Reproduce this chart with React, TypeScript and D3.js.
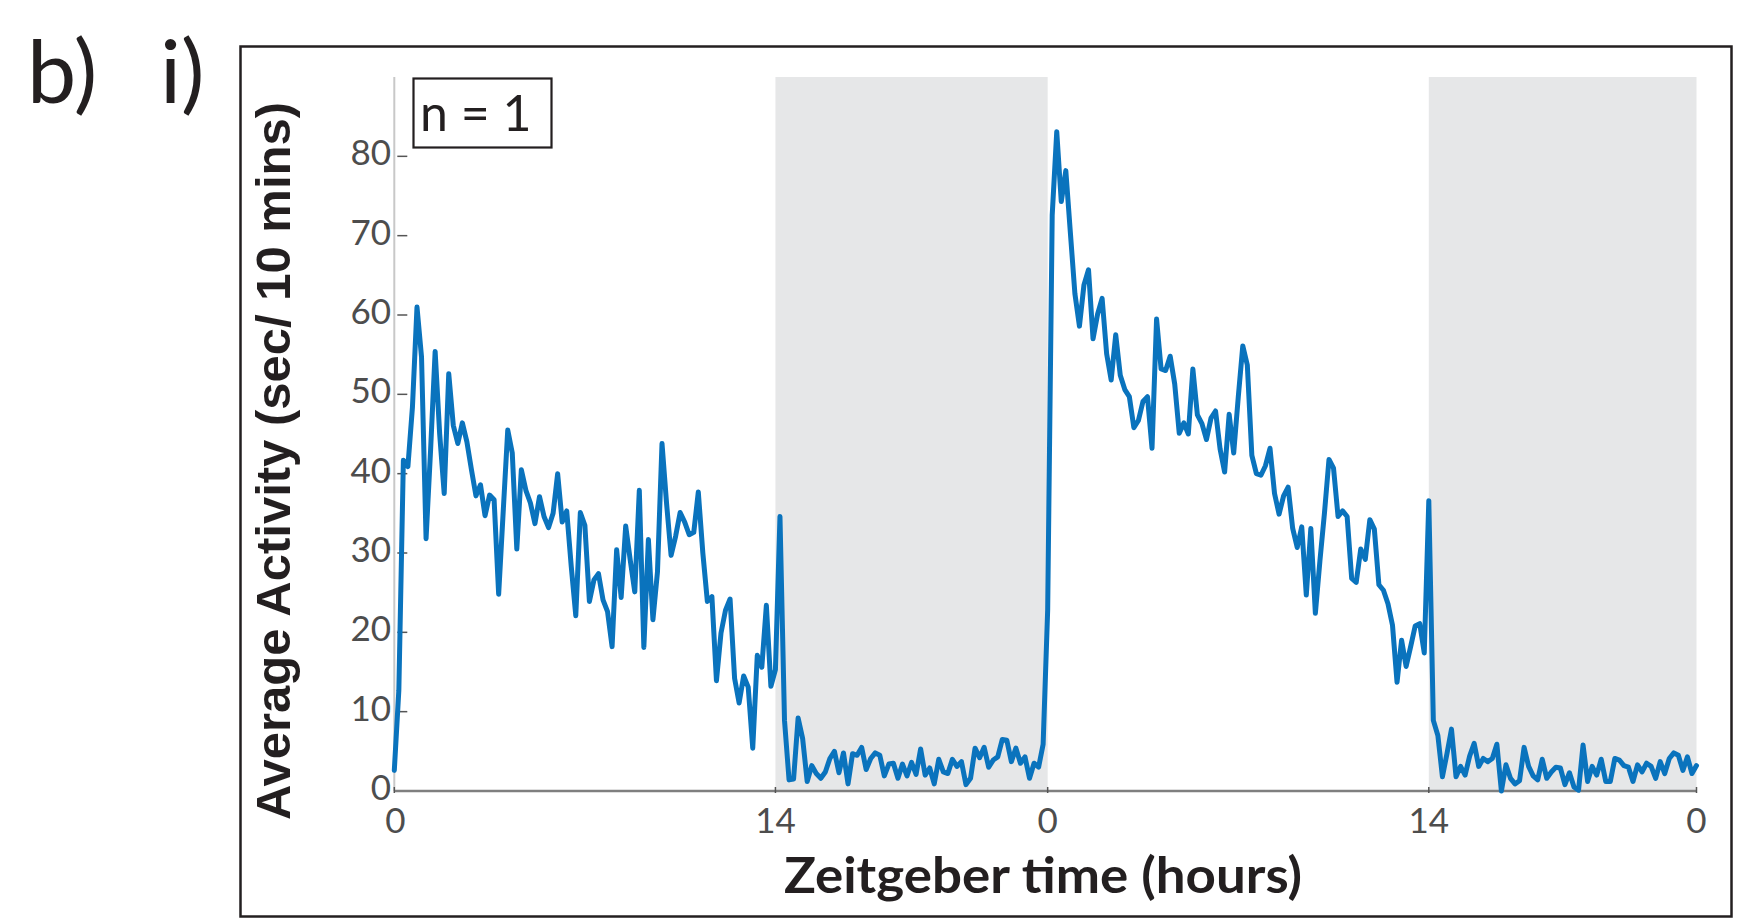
import React from 'react';
import * as d3 from 'd3';

// Average activity per 10-min bin over two 24 h days (288 bins)
const activity: number[] = [
  2.6, 12.7, 41.7, 40.9, 48.4, 61.0, 54.7, 31.8, 43.0, 55.4,
  45.0, 37.5, 52.6, 46.1, 43.8, 46.4, 44.0, 40.5, 37.2, 38.6,
  34.7, 37.3, 36.7, 24.8, 35.2, 45.5, 42.6, 30.5, 40.5, 37.9,
  36.3, 33.7, 37.1, 34.6, 33.2, 35.0, 40.0, 33.9, 35.3, 28.3,
  22.1, 35.1, 33.5, 23.9, 26.6, 27.4, 24.1, 22.6, 18.2, 30.4,
  24.4, 33.4, 29.1, 25.1, 37.9, 18.1, 31.7, 21.6, 27.6, 43.8,
  36.3, 29.7, 32.1, 35.1, 33.9, 32.3, 32.6, 37.7, 30.0, 23.9,
  24.5, 13.9, 19.9, 22.8, 24.2, 14.2, 11.1, 14.5, 13.1, 5.4,
  17.1, 15.6, 23.4, 13.2, 15.3, 34.6, 8.9, 1.4, 1.5, 9.2,
  6.6, 1.2, 3.2, 2.2, 1.6, 2.4, 4.1, 5.0, 2.3, 4.8,
  0.9, 4.7, 4.5, 5.5, 2.7, 4.1, 4.8, 4.5, 1.9, 3.4,
  3.5, 1.6, 3.4, 1.9, 3.6, 2.1, 5.3, 2.0, 2.9, 0.9,
  4.0, 2.4, 2.2, 4.0, 3.1, 3.7, 0.8, 1.6, 5.4, 4.2,
  5.5, 3.0, 3.9, 4.3, 6.5, 6.4, 3.7, 5.4, 3.5, 4.3,
  1.6, 3.5, 3.0, 5.9, 22.8, 72.6, 83.1, 74.3, 78.2, 70.4,
  62.7, 58.6, 63.8, 65.7, 57.0, 60.1, 62.1, 55.1, 51.8, 57.5,
  52.4, 50.6, 49.7, 45.8, 46.7, 49.1, 49.7, 43.2, 59.5, 53.2,
  53.0, 54.8, 51.3, 45.1, 46.4, 45.0, 53.2, 47.4, 46.3, 44.3,
  47.0, 47.9, 43.1, 40.2, 47.5, 42.6, 49.6, 56.1, 53.7, 42.3,
  40.0, 39.8, 41.0, 43.2, 37.5, 34.9, 37.2, 38.3, 33.1, 30.7,
  33.3, 24.7, 33.1, 22.4, 29.0, 35.0, 41.8, 40.7, 34.6, 35.3,
  34.6, 26.8, 26.3, 30.5, 29.2, 34.2, 33.0, 26.0, 25.3, 23.6,
  20.9, 13.7, 19.0, 15.7, 18.2, 20.8, 21.1, 17.4, 36.6, 8.9,
  7.0, 1.8, 4.7, 7.8, 1.8, 3.1, 2.0, 4.4, 6.0, 3.1,
  4.1, 3.7, 4.1, 5.9, 0.0, 3.3, 1.6, 0.9, 1.3, 5.5,
  3.1, 1.9, 1.4, 4.0, 1.6, 2.4, 3.0, 2.9, 0.8, 2.3,
  0.5, 0.1, 5.8, 1.2, 3.1, 2.0, 4.0, 1.2, 1.2, 4.1,
  3.9, 3.2, 3.0, 1.2, 3.3, 2.4, 3.5, 3.1, 1.6, 3.7,
  2.2, 4.1, 4.8, 4.5, 2.6, 4.3, 2.2, 3.2,
];

const yTicks = [0, 10, 20, 30, 40, 50, 60, 70, 80];
const xTickBins = [0, 84, 144, 228, 287];
const xTickLabels = ['0', '14', '0', '14', '0'];
const darkPhases: [number, number][] = [[84, 144], [228, 287]];

const calibriLike = 'Lato, "Open Sans", sans-serif';

export default function App() {
  const W = 1756;
  const H = 918;
  const x = d3.scaleLinear().domain([0, activity.length - 1]).range([394.3, 1696.5]);
  const y = d3.scaleLinear().domain([0, 90]).range([791, 77]);
  const line = d3
    .line<number>()
    .x((_, i) => x(i))
    .y((d) => y(d));
  const path = line(activity) || '';
  const [y0, yTop] = y.range();

  return (
    <svg
      width={W}
      height={H}
      style={{ position: 'absolute', left: 0, top: 0, display: 'block', background: '#fff' }}
    >
      {/* panel label */}
      <text x={27} y={103} fontFamily={calibriLike} fontSize={88} fill="#231f20">b)</text>
      <text x={160} y={103} fontFamily={calibriLike} fontSize={88} fill="#231f20">i)</text>

      {/* outer frame */}
      <rect x={240.5} y={46.5} width={1491} height={870} fill="none" stroke="#231f20" strokeWidth={2.5} />

      {/* dark phases */}
      {darkPhases.map(([a, b], i) => (
        <rect key={i} x={x(a)} y={yTop} width={x(b) - x(a)} height={y0 - yTop} fill="#e6e7e8" />
      ))}

      {/* y axis */}
      <line x1={x(0)} x2={x(0)} y1={yTop} y2={y0} stroke="#c8c8c8" strokeWidth={2} />
      {yTicks.map((t) => (
        <g key={t}>
          <line x1={x(0) + 3} x2={x(0) + 13} y1={y(t)} y2={y(t)} stroke="#555" strokeWidth={1.5} />
          <text
            x={391}
            y={y(t) + 9}
            textAnchor="end"
            fontFamily={calibriLike}
            fontSize={35}
            fill="#4d4d4d"
          >
            {t}
          </text>
        </g>
      ))}

      {/* x axis */}
      <line x1={x(0)} x2={x(activity.length - 1)} y1={y0} y2={y0} stroke="#7f7f7f" strokeWidth={2.5} />
      {xTickBins.map((b, i) => (
        <g key={i}>
          <line x1={x(b)} x2={x(b)} y1={y0 - 4} y2={y0 + 2} stroke="#555" strokeWidth={1.5} />
          <text
            x={x(b) + (i === 0 ? 1 : 0)}
            y={833}
            textAnchor="middle"
            fontFamily={calibriLike}
            fontSize={35}
            fill="#4d4d4d"
          >
            {xTickLabels[i]}
          </text>
        </g>
      ))}

      {/* activity line */}
      <path d={path} fill="none" stroke="#0a73bd" strokeWidth={5} strokeLinejoin="round" strokeLinecap="round" />

      {/* n = 1 box */}
      <rect x={413.5} y={78.5} width={138} height={69} fill="#fff" stroke="#231f20" strokeWidth={2.2} />
      <text x={420} y={131} fontFamily={calibriLike} fontSize={50} fill="#231f20">n = 1</text>

      {/* axis titles */}
      <text
        x={1043}
        y={893}
        textAnchor="middle"
        fontFamily={calibriLike}
        fontWeight={700}
        fontSize={49}
        fill="#231f20"
        textLength={518}
        lengthAdjust="spacingAndGlyphs"
      >
        Zeitgeber time (hours)
      </text>
      <text
        transform="translate(290,461) rotate(-90)"
        textAnchor="middle"
        fontFamily='"Liberation Sans", Arial, sans-serif'
        fontWeight={700}
        fontSize={49}
        fill="#231f20"
      >
        Average Activity (sec/ 10 mins)
      </text>
    </svg>
  );
}
